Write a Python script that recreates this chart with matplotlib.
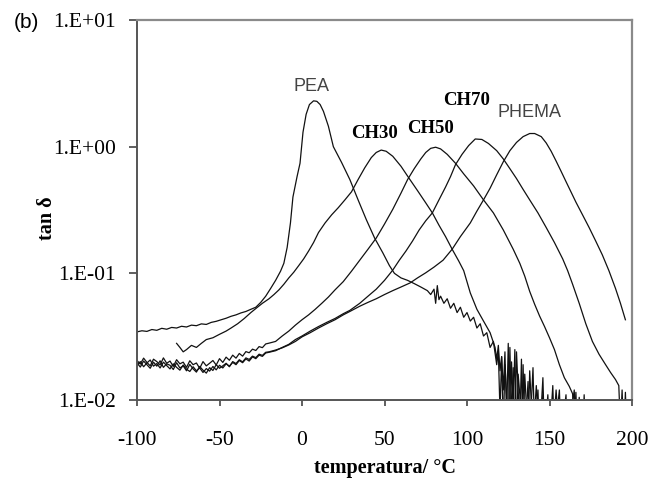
import matplotlib
matplotlib.use("Agg")
import matplotlib.pyplot as plt

plt.rcParams["axes.unicode_minus"] = False

# temperature (C) and tan delta
pea_t = [-100, -97, -94, -91, -88, -85, -82, -79, -76, -73, -70, -67, -64, -61, -58, -55, -52, -49,
         -46, -43, -40, -37, -34, -31, -28, -25, -22, -19, -16, -13, -11, -9, -7, -5.5, -3, -1.2,
         0.6, 2.5, 4.5, 7, 9, 11, 13, 16, 19, 24, 29, 34, 39, 44, 49, 53, 56, 60, 64, 68, 72,
         76, 78, 80, 81, 82, 83, 84, 86, 88, 90, 92, 94, 96, 98, 100, 102, 104, 106, 108, 110,
         112, 114, 116, 118, 119, 120, 121, 122, 123, 124, 125, 126, 127, 128, 129, 130, 131,
         132, 133, 134, 135, 136, 137, 138, 140, 142, 144, 146, 148, 150, 152, 154, 156]
pea_v = [0.0345, 0.0352, 0.0348, 0.0360, 0.0355, 0.0368, 0.0362, 0.0374, 0.0370, 0.0382, 0.0377,
         0.0390, 0.0386, 0.0399, 0.0395, 0.0410, 0.0418, 0.0430, 0.0442, 0.0458, 0.0470, 0.0487,
         0.0500, 0.0520, 0.0540, 0.0590, 0.0660, 0.0760, 0.0880, 0.104, 0.120, 0.160, 0.250,
         0.400, 0.580, 0.740, 1.30, 1.80, 2.15, 2.30, 2.28, 2.15, 1.90, 1.45, 1.00, 0.75, 0.55,
         0.38, 0.265, 0.19, 0.145, 0.115, 0.100, 0.092, 0.088, 0.083, 0.078,
         0.073, 0.068, 0.075, 0.058, 0.080, 0.062, 0.066, 0.058, 0.063, 0.053, 0.058, 0.049,
         0.054, 0.045, 0.049, 0.042, 0.045, 0.037, 0.040, 0.032, 0.034, 0.026, 0.029, 0.019,
         0.024, 0.008, 0.022, 0.006, 0.019, 0.011, 0.005, 0.026, 0.007, 0.018, 0.005, 0.024,
         0.012, 0.006, 0.021, 0.005, 0.016, 0.009, 0.005, 0.017, 0.005, 0.013, 0.005, 0.011,
         0.005, 0.008, 0.005, 0.012, 0.005]

ch30_t = [-76, -74, -72, -70, -67, -64, -61, -58, -54, -50, -46, -43, -39, -35, -31, -27, -24,
          -20, -17, -14, -11, -8, -5, -2, 1, 4, 7, 10, 14, 18, 22, 26, 30, 34, 38, 42, 45, 48,
          51, 55, 60, 65, 70, 75, 79, 83, 87, 91, 95, 98, 102, 106, 110, 114,
          117, 118, 119, 120, 121, 122, 123, 124, 125, 126, 127, 128, 129, 130, 131, 132, 133,
          134, 135, 137, 138, 140, 141, 143, 144, 146, 147, 149, 150, 152, 153, 156, 157, 160,
          161, 165, 166]
ch30_v = [0.028, 0.026, 0.024, 0.025, 0.027, 0.026, 0.028, 0.030, 0.031, 0.033, 0.035, 0.037,
          0.040, 0.044, 0.049, 0.054, 0.058, 0.063, 0.068, 0.074, 0.082, 0.092, 0.102, 0.115,
          0.13, 0.15, 0.175, 0.21, 0.25, 0.29, 0.33, 0.38, 0.44, 0.55, 0.68, 0.82, 0.90, 0.94,
          0.92, 0.84, 0.70, 0.56, 0.45, 0.36, 0.30, 0.24, 0.195, 0.155, 0.125, 0.105, 0.07,
          0.052, 0.042, 0.034,
          0.026, 0.021, 0.027, 0.017, 0.022, 0.012, 0.024, 0.007, 0.028, 0.005, 0.020, 0.009,
          0.025, 0.005, 0.016, 0.011, 0.005, 0.019, 0.005, 0.014, 0.005, 0.018, 0.005, 0.012,
          0.005, 0.015, 0.005, 0.011, 0.005, 0.013, 0.005, 0.012, 0.005, 0.011, 0.005, 0.012,
          0.005]

cluster_t = [-100, -98, -96, -94, -92, -90, -88, -86, -84, -82, -80, -78, -76, -74, -72, -70,
             -68, -66, -64, -62, -60, -58, -56, -54, -52, -50, -48, -46, -44, -42, -40, -38,
             -36, -34, -32, -30, -28, -26, -24, -22, -20]

ch50_t = cluster_t + [-16, -12, -8, -4, 0, 4, 8, 12, 16, 20, 25, 30, 35, 40, 45, 50, 55, 60, 64,
                      68, 72, 75, 78, 81, 84, 88, 93, 98, 104, 110, 116, 122, 128, 132, 135, 138,
                      141, 144, 147, 150, 153, 156, 159, 162, 164, 165, 166, 167, 168, 170, 171,
                      172]
ch50_v = [0.0205, 0.0192, 0.0214, 0.0198, 0.0186, 0.0210, 0.0201, 0.0189, 0.0215, 0.0195,
          0.0203, 0.0184, 0.0208, 0.0193, 0.0199, 0.0181, 0.0204, 0.0190, 0.0196, 0.0178,
          0.0201, 0.0186, 0.0195, 0.0205, 0.0189, 0.0212, 0.0198, 0.0218, 0.0206, 0.0226,
          0.0214, 0.0233, 0.0222, 0.0241, 0.0236, 0.0252, 0.0246, 0.0264, 0.0259, 0.0277, 0.0281,
          0.029, 0.032, 0.035, 0.039, 0.043, 0.047, 0.052, 0.058, 0.065, 0.074, 0.086, 0.104,
          0.127, 0.155, 0.19, 0.245, 0.32, 0.43, 0.55, 0.67, 0.80, 0.90, 0.97, 0.99, 0.96, 0.87,
          0.74, 0.61, 0.49, 0.38, 0.30, 0.22, 0.155, 0.12, 0.095, 0.072, 0.057, 0.046, 0.038,
          0.031, 0.025, 0.019, 0.015, 0.0128, 0.0112, 0.006, 0.0115, 0.005, 0.0105, 0.005,
          0.011, 0.005]

ch70_t = cluster_t + [-16, -12, -8, -4, 0, 5, 10, 15, 20, 25, 29, 35, 40, 45, 50, 55, 59, 63,
                      67, 71, 75, 79, 83, 87, 90, 93, 97, 101, 105, 109, 113, 118, 122, 126, 130,
                      134, 138, 143, 148, 153, 158, 161, 164, 168, 172, 176, 180, 184, 187, 190,
                      192, 193, 194, 195, 196, 197]
ch70_v = [0.0188, 0.0201, 0.0183, 0.0196, 0.0207, 0.0185, 0.0194, 0.0179, 0.0199, 0.0187,
          0.0176, 0.0193, 0.0181, 0.0172, 0.0189, 0.0175, 0.0168, 0.0183, 0.0170, 0.0179,
          0.0165, 0.0177, 0.0169, 0.0184, 0.0173, 0.0188, 0.0179, 0.0193, 0.0185, 0.0198,
          0.0190, 0.0205, 0.0197, 0.0211, 0.0203, 0.0219, 0.0212, 0.0226, 0.0221, 0.0235, 0.0238,
          0.0245, 0.026, 0.0275, 0.030, 0.032, 0.035, 0.038, 0.041, 0.044, 0.048, 0.051, 0.058,
          0.066, 0.075, 0.088, 0.106, 0.127, 0.15, 0.18, 0.22, 0.26, 0.30, 0.38, 0.48, 0.58,
          0.72, 0.87, 1.02, 1.15, 1.14, 1.06, 0.93, 0.80, 0.67, 0.56, 0.46, 0.38, 0.30, 0.23,
          0.175, 0.13, 0.105, 0.082, 0.058, 0.040, 0.029, 0.023, 0.019, 0.0165, 0.0145,
          0.013, 0.006, 0.012, 0.005, 0.0115, 0.005]

phema_t = cluster_t + [-16, -12, -8, -4, 0, 5, 10, 15, 20, 25, 29, 35, 40, 45, 50, 55, 60, 65.5,
                       70, 75, 80, 85.5, 91, 96, 102, 106, 110, 114, 118, 122, 126, 130, 134,
                       138, 141, 145, 148, 151, 154, 157, 160, 163, 166, 170, 174, 178, 182, 186,
                       190, 193, 196]
phema_v = [0.0196, 0.0182, 0.0203, 0.0190, 0.0178, 0.0199, 0.0185, 0.0204, 0.0181, 0.0193,
           0.0188, 0.0174, 0.0197, 0.0179, 0.0186, 0.0170, 0.0191, 0.0176, 0.0166, 0.0184,
           0.0172, 0.0163, 0.0180, 0.0171, 0.0190, 0.0178, 0.0186, 0.0195, 0.0183, 0.0201,
           0.0194, 0.0208, 0.0200, 0.0215, 0.0209, 0.0222, 0.0216, 0.0230, 0.0225, 0.0238, 0.0240,
           0.0248, 0.0258, 0.0272, 0.029, 0.0315, 0.034, 0.037, 0.040, 0.043, 0.047, 0.050,
           0.055, 0.059, 0.063, 0.068, 0.073, 0.078, 0.084, 0.092, 0.101, 0.112, 0.127, 0.155,
           0.195, 0.25, 0.31, 0.38, 0.47, 0.60, 0.76, 0.93, 1.08, 1.20, 1.27, 1.27, 1.20, 1.07,
           0.92, 0.77, 0.64, 0.53, 0.44, 0.365, 0.29, 0.23, 0.18, 0.14, 0.105, 0.076, 0.058,
           0.043]

curves = [(pea_t, pea_v), (ch30_t, ch30_v), (ch50_t, ch50_v), (ch70_t, ch70_v), (phema_t, phema_v)]

# label name, T position, tan delta position
curve_labels = [("PEA", 5.5, 2.96), ("CH30", 44, 1.26), ("CH50", 78, 1.38),
                ("CH70", 100, 2.33), ("PHEMA", 138, 1.85)]

x_ticks = [-100, -50, 0, 50, 100, 150, 200]
y_ticks = [0.01, 0.1, 1, 10]
y_tick_labels = ["1.E-02", "1.E-01", "1.E+00", "1.E+01"]

fig = plt.figure(figsize=(6.51, 4.79), dpi=100)
ax = fig.add_axes([137 / 651, 1 - 400 / 479, 495 / 651, 380 / 479])

for t, v in curves:
    ax.plot(t, v, color="#111111", lw=0.9)

ax.set_yscale("log")
ax.set_xlim(-100, 200)
ax.set_ylim(0.01, 10)
ax.set_xticks(x_ticks)
ax.set_yticks(y_ticks)
ax.set_yticklabels(y_tick_labels)
ax.minorticks_off()

serif = "Liberation Serif"
for lab in ax.get_xticklabels() + ax.get_yticklabels():
    lab.set_fontfamily(serif)
    lab.set_fontsize(15.5)
ax.tick_params(axis="y", direction="out", length=6, width=1.2, pad=9, color="#444444")
ax.tick_params(axis="x", direction="out", length=4, width=1.2, pad=18, color="#444444")

for side in ["left", "bottom"]:
    ax.spines[side].set_color("#555555")
    ax.spines[side].set_linewidth(1.4)
for side in ["top", "right"]:
    ax.spines[side].set_color("#8a8a8a")
    ax.spines[side].set_linewidth(1.6)

ax.set_xlabel("temperatura/ °C", fontfamily=serif, fontweight="bold", fontsize=14.5, labelpad=6)
ax.set_ylabel("tan δ", fontfamily=serif, fontweight="bold", fontsize=14.5)
ax.yaxis.set_label_coords(-0.162, 0.479)

for name, t, v in curve_labels:
    if name.startswith("CH"):
        ax.text(t, v, name, fontfamily=serif, fontweight="bold", fontsize=13.5,
                ha="center", va="center")
    else:
        ax.text(t, v, name, fontfamily="Liberation Sans", fontsize=13, color="#444444",
                ha="center", va="center")

fig.text(26 / 651, 1 - 22 / 479, "(b)", fontfamily="Liberation Sans", fontsize=15, ha="center", va="center")

fig.savefig("out.png", dpi=100)
